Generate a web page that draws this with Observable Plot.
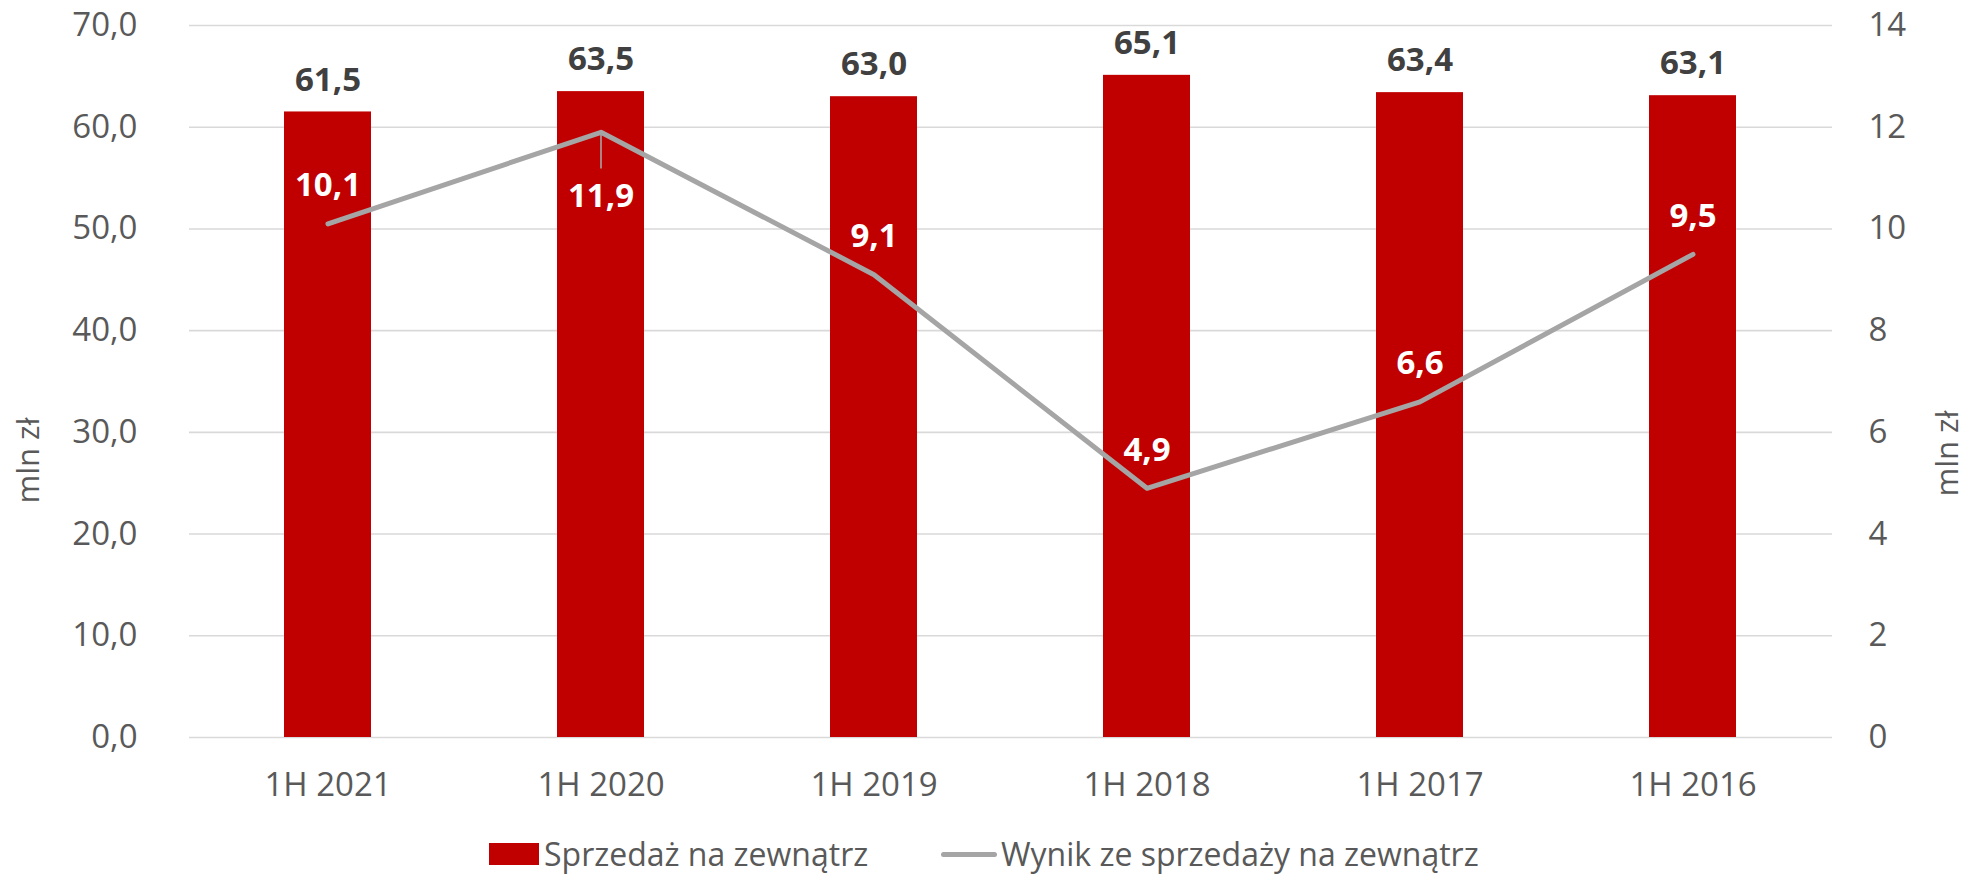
<!DOCTYPE html>
<html>
<head>
<meta charset="utf-8">
<script src="https://cdn.jsdelivr.net/npm/d3@7"></script>
<script src="https://cdn.jsdelivr.net/npm/@observablehq/plot@0.6"></script>
<style>
  html, body { margin: 0; padding: 0; background: #fff; }
  body { width: 1975px; height: 874px; position: relative; overflow: hidden; font-family: "Open Sans", sans-serif; }
  #legend { position: absolute; left: 0; top: 836px; width: 1975px; height: 36px; font-size: 32px; color: #595959; }
  #legend .item { position: absolute; top: 0; height: 36px; line-height: 36px; white-space: nowrap; }
  #legend .sw { position: absolute; }
</style>
</head>
<body>
<div id="chart"></div>
<div id="legend"></div>
<script>
const categories = ["1H 2021", "1H 2020", "1H 2019", "1H 2018", "1H 2017", "1H 2016"];
const sales = [61.5, 63.5, 63.0, 65.1, 63.4, 63.1];
const result = [10.1, 11.9, 9.1, 4.9, 6.6, 9.5];
const leftTicks = [0, 10, 20, 30, 40, 50, 60, 70];
const rightTicks = [0, 2, 4, 6, 8, 10, 12, 14];
const axisTitle = "mln zł";
const seriesNames = ["Sprzedaż na zewnątrz", "Wynik ze sprzedaży na zewnątrz"];

const RATIO = 70 / 14; // right axis -> left axis
const comma = v => v.toFixed(1).replace(".", ",");

const rows = categories.map((c, i) => ({cat: c, sales: sales[i], result: result[i], yr: result[i] * RATIO}));
const above = rows.filter((d, i) => i !== 1);
const below = rows.filter((d, i) => i === 1);

const W = 1975, H = 830;
const font = "Open Sans, sans-serif";

const chart = Plot.plot({
  width: W,
  height: H,
  marginLeft: 189,
  marginRight: 143,
  marginTop: 25,
  marginBottom: H - 737,
  style: {fontFamily: font, background: "#fff"},
  x: {type: "band", domain: categories, paddingInner: 0.68, paddingOuter: 0.34, label: null},
  y: {domain: [0, 70], label: null},
  marks: [
    Plot.gridY(leftTicks, {stroke: "#D9D9D9", strokeOpacity: 1, strokeWidth: 1.6}),
    Plot.barY(rows, {x: "cat", y: "sales", fill: "#C00000"}),
    Plot.line(rows, {x: "cat", y: "yr", stroke: "#A5A5A5", strokeWidth: 5, strokeLinecap: "round", strokeLinejoin: "round"}),
    Plot.ruleX(below, {x: "cat", y1: "yr", y2: d => d.yr - 3.6, stroke: "#A5A5A5", strokeWidth: 1.6}),
    Plot.text(rows, {x: "cat", y: "sales", text: d => comma(d.sales), dy: -32, fill: "#404040", fontWeight: "bold", fontSize: 33, fontFamily: font}),
    Plot.text(above, {x: "cat", y: "yr", text: d => comma(d.result), dy: -38, fill: "#fff", fontWeight: "bold", fontSize: 33, fontFamily: font}),
    Plot.text(below, {x: "cat", y: "yr", text: d => comma(d.result), dy: 64, fill: "#fff", fontWeight: "bold", fontSize: 33, fontFamily: font}),
    Plot.axisY(leftTicks, {anchor: "left", tickSize: 0, tickPadding: 52, tickFormat: comma, fontSize: 33, fill: "#595959", label: null}),
    Plot.axisY(rightTicks.map(v => v * RATIO), {anchor: "right", tickSize: 0, tickPadding: 36, tickFormat: v => String(Math.round(v / RATIO)), fontSize: 33, fill: "#595959", label: null}),
    Plot.axisX({anchor: "bottom", tickSize: 0, tickPadding: 35, fontSize: 33, fill: "#595959", label: null}),
    Plot.text([axisTitle], {frameAnchor: "left", textAnchor: "middle", lineAnchor: "middle", text: d => d, rotate: -90, dx: -160, dy: 79, fontSize: 31, fill: "#595959", fontFamily: font}),
    Plot.text([axisTitle], {frameAnchor: "right", textAnchor: "middle", lineAnchor: "middle", text: d => d, rotate: -90, dx: 116, dy: 72, fontSize: 31, fill: "#595959", fontFamily: font})
  ]
});
document.getElementById("chart").appendChild(chart);

const legend = document.getElementById("legend");
legend.innerHTML = `
  <div class="sw" style="left:489px;top:7px;width:50px;height:22px;background:#C00000"></div>
  <div class="item" style="left:544px">${seriesNames[0]}</div>
  <div class="sw" style="left:941px;top:16px;width:56px;height:5px;border-radius:3px;background:#A5A5A5"></div>
  <div class="item" style="left:1001px">${seriesNames[1]}</div>
`;
</script>
</body>
</html>
